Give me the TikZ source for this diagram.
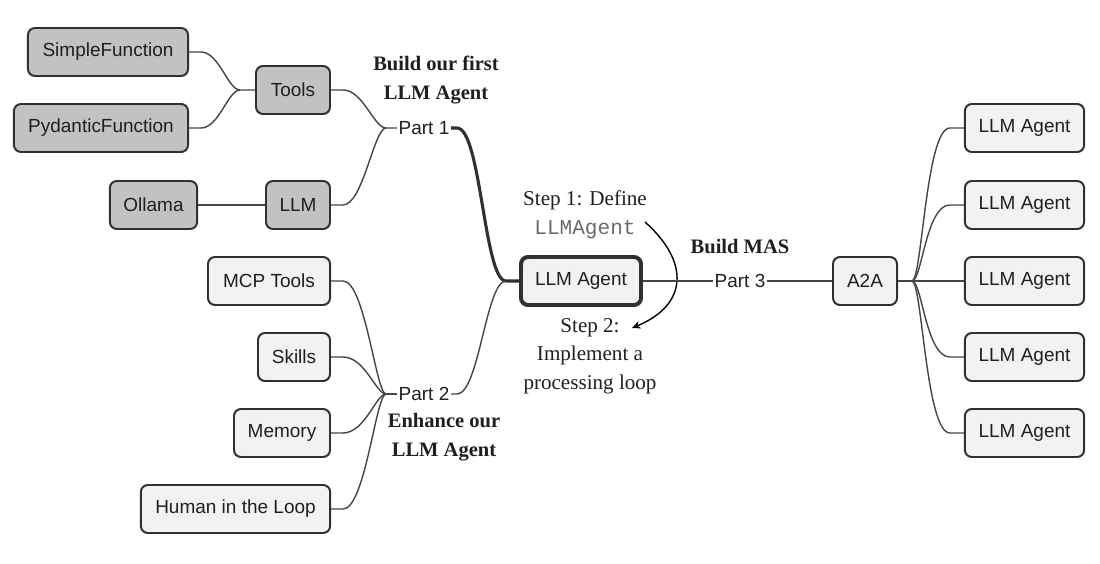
\documentclass[tikz,border=0pt]{standalone}
\usepackage{fontspec}
\setmainfont{Liberation Serif}
\setsansfont{Liberation Sans}
\setmonofont{Liberation Mono}
\usetikzlibrary{arrows.meta}
\definecolor{boxgray}{HTML}{C2C2C2}
\definecolor{boxlight}{HTML}{F2F2F2}
\definecolor{edgegray}{HTML}{303030}
\definecolor{linegray}{HTML}{454545}
\definecolor{codegray}{HTML}{6A6A6A}
\begin{document}
\begin{tikzpicture}[x=0.025cm, y=-0.025cm, every node/.style={font=\fontsize{13.5}{16}\sffamily, text=black!88},
  topic/.style={draw=edgegray,line width=1.4pt,rounded corners=5pt,fill=boxlight,minimum height=1.2cm,inner sep=2pt},
  part/.style={inner sep=1pt},
  note/.style={font=\fontsize{15}{20.4}\rmfamily,align=center},
  title/.style={font=\fontsize{14.6}{20.4}\rmfamily\bfseries,align=center},
  branch/.style={draw=linegray,line width=1pt}]
\useasboundingbox (0,0) rectangle (1100,564);
% part 1
\node[topic,fill=boxgray,minimum width=4cm] (simple) at (108,52) {SimpleFunction};
\node[topic,fill=boxgray,minimum width=4.35cm] (pydantic) at (101,128) {PydanticFunction};
\node[topic,fill=boxgray,minimum width=1.85cm] (tools) at (293,90) {Tools};
\node[topic,fill=boxgray,minimum width=2.18cm] (ollama) at (153.5,205) {Ollama};
\node[topic,fill=boxgray,minimum width=1.6cm] (llm) at (298,205) {LLM};
\node[part] (part1) at (424,128) {Part 1};
\node[title] at (436,80) {Build our first\\LLM Agent};
\coordinate (toolsj) at (240,90);
\coordinate (p1j) at (386,128);
\draw[branch] (simple.east) -- ++(12,0) .. controls +(18,0) and +(-12,0) .. (toolsj) -- (tools.west);
\draw[branch] (pydantic.east) -- ++(12,0) .. controls +(18,0) and +(-12,0) .. (toolsj);
\draw[branch] (ollama) -- (llm);
\draw[branch] (tools.east) -- ++(12,0) .. controls +(20,0) and +(-12,0) .. (p1j) -- (part1.west);
\draw[branch] (llm.east) -- ++(12,0) .. controls +(20,0) and +(-12,0) .. (p1j);
% centre
\node[topic,line width=2.8pt,minimum width=3cm] (agent) at (581,281) {LLM Agent};
\node[note] (step1) at (585,215) {Step 1: Define\\{\ttfamily\color{codegray}LLMAgent}};
\node[note] (step2) at (590,356) {Step 2:\\Implement a\\processing loop};
\coordinate (s1) at (645,222);
\coordinate (s2) at (632,328);
\draw[-{Stealth[length=6pt,width=5.5pt]},line width=1pt,black] (s1) .. controls (690,262) and (688,305) .. (s2);
\coordinate (aj) at (506,281);
\draw[branch,line width=2.2pt,draw=edgegray] (part1.east) -- ++(6,0) .. controls +(24,0) and +(-22,0) .. (aj) -- (agent.west);
% part 2
\node[topic,minimum width=3.05cm] (mcp) at (269,281) {MCP Tools};
\node[topic,minimum width=1.8cm] (skills) at (294,357) {Skills};
\node[topic,minimum width=2.4cm] (memory) at (282,433) {Memory};
\node[topic,minimum width=4.73cm] (human) at (235.5,509) {Human in the Loop};
\node[part] (part2) at (424,394) {Part 2};
\node[title] at (444,437) {Enhance our\\LLM Agent};
\coordinate (p2j) at (386,394);
\foreach \n in {mcp,skills,memory,human}
  \draw[branch] (\n.east) -- ++(12,0) .. controls +(22,0) and +(-10,0) .. (p2j);
\draw[branch] (p2j) -- (part2.west);
\draw[branch] (part2.east) -- ++(6,0) .. controls +(22,0) and +(-20,0) .. (aj);
% part 3
\node[part] (part3) at (740,281) {Part 3};
\node[title] at (740,247) {Build MAS};
\node[topic,minimum width=1.6cm] (a2a) at (865,281) {A2A};
\draw[branch] (agent) -- (part3);
\draw[branch] (part3) -- (a2a);
\coordinate (a2aj) at (912,281);
\draw[branch] (a2a) -- (a2aj);
\foreach \y [count=\i] in {128,205,281,357,433} {
  \node[topic,minimum width=2.98cm] (agent\i) at (1024.5,\y) {LLM Agent};
  \draw[branch] (agent\i.west) -- ++(-14,0) .. controls +(-24,0) and +(10,0) .. (a2aj);
}
\end{tikzpicture}
\end{document}
